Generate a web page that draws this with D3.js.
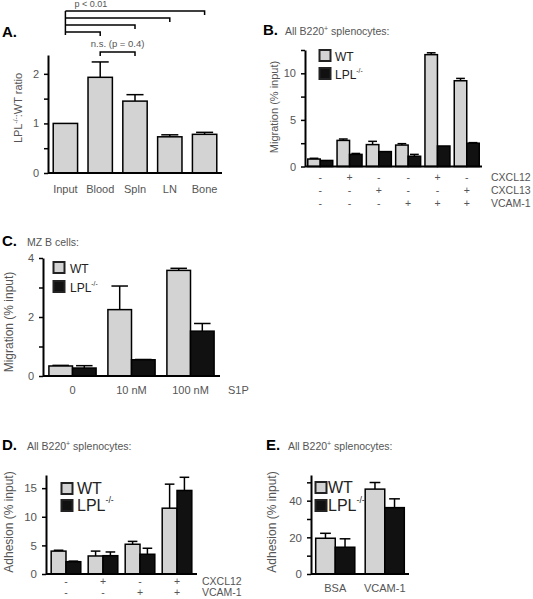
<!DOCTYPE html>
<html><head><meta charset="utf-8">
<script src="https://cdn.jsdelivr.net/npm/d3@7/dist/d3.min.js"></script>
<style>
body{margin:0;background:#fff}
text{font-family:"Liberation Sans",Arial,Helvetica,sans-serif}
</style>
</head><body>
<svg id="chart" width="533" height="599"></svg>
<script>
// ---------------- DATA ----------------
// Panel A
const tissues = ["Input", "Blood", "Spln", "LN", "Bone"];
const ratioValues = [1.0, 1.93, 1.45, 0.73, 0.78];
const ratioErrors = [0, 0.31, 0.13, 0.04, 0.04];
const ratioTicks = [0, 0.5, 1, 1.5, 2];
const ratioTickLabels = ["0", "", "1", "", "2"];
const sigPairs = [["Input", "Bone"], ["Input", "LN"], ["Input", "Spln"], ["Input", "Blood"]];
const sigLabel = "p < 0.01";
const nsPair = ["Blood", "Spln"];
const nsLabel = "n.s. (p = 0.4)";

// Panel B
const bConditions = ["1", "2", "3", "4", "5", "6"];
const bRowNames = ["CXCL12", "CXCL13", "VCAM-1"];
const bRows = [
  ["-", "+", "-", "-", "+", "-"],
  ["-", "-", "+", "-", "-", "+"],
  ["-", "-", "-", "+", "+", "+"]
];
const bWT = [0.8, 2.8, 2.35, 2.3, 12.0, 9.2];
const bWTErr = [0.08, 0.15, 0.35, 0.15, 0.2, 0.25];
const bLPL = [0.65, 1.3, 1.6, 1.1, 2.2, 2.5];
const bLPLErr = [0, 0.1, 0, 0.2, 0, 0.06];
const bTicks = [0, 2.5, 5, 7.5, 10, 12.5];
const bTickLabels = ["0", "", "5", "", "10", ""];

// Panel C
const cDoses = ["0", "10 nM", "100 nM"];
const cWT = [0.34, 2.25, 3.58];
const cWTErr = [0.02, 0.8, 0.07];
const cLPL = [0.27, 0.55, 1.52];
const cLPLErr = [0.08, 0.01, 0.26];
const cTicks = [0, 1, 2, 3, 4];
const cTickLabels = ["0", "", "2", "", "4"];

// Panel D
const dConditions = ["1", "2", "3", "4"];
const dRowNames = ["CXCL12", "VCAM-1"];
const dRows = [
  ["-", "+", "-", "+"],
  ["-", "-", "+", "+"]
];
const dWT = [4.0, 3.15, 5.2, 11.5];
const dWTErr = [0.15, 0.85, 0.5, 4.2];
const dLPL = [2.15, 3.2, 3.45, 14.6];
const dLPLErr = [0.1, 0.65, 1.05, 2.3];
const dTicks = [0, 5, 10, 15];
const dTickLabels = ["0", "5", "10", "15"];

// Panel E
const eSubstrates = ["BSA", "VCAM-1"];
const eWT = [19.5, 46.3];
const eWTErr = [2.7, 3.6];
const eLPL = [14.6, 36.2];
const eLPLErr = [4.6, 4.8];
const eTicks = [0, 10, 20, 30, 40, 50];
const eTickLabels = ["0", "", "20", "", "40", ""];

const genotypes = ["WT", "LPL"];

// ---------------- DRAWING ----------------
const svg = d3.select("#chart");
svg.append("rect").attr("width", 533).attr("height", 599).attr("fill", "#fff");
const GREY = "#d3d3d3", BLACK = "#111", TXT = "#555";

function yAxis(g, y, x0, ticks, labels, fs) {
  const ax = g.append("g").attr("transform", `translate(${x0},0)`)
    .call(d3.axisLeft(y).tickValues(ticks).tickFormat((d, i) => labels[i])
      .tickSize(4).tickSizeOuter(0).tickPadding(5));
  ax.select(".domain").attr("stroke", "#000").attr("stroke-width", 2);
  ax.selectAll(".tick line").attr("stroke", "#000").attr("stroke-width", 1.5);
  ax.selectAll(".tick text").attr("fill", TXT).style("font-size", fs + "px")
    .style("font-family", '"Liberation Sans",Arial,sans-serif');
  return ax;
}

function xLine(g, x0, x1, yb) {
  g.append("line").attr("x1", x0).attr("x2", x1).attr("y1", yb).attr("y2", yb)
    .attr("stroke", "#000").attr("stroke-width", 2);
}

function yTitle(g, x, y, parts, fs) {
  const t = g.append("text").attr("transform", `translate(${x},${y}) rotate(-90)`)
    .attr("text-anchor", "middle").attr("fill", TXT).style("font-size", fs + "px");
  parts.forEach(p => {
    if (p.sup) t.append("tspan").attr("dy", -fs * 0.4).style("font-size", (fs * 0.6) + "px").text(p.t);
    else if (p.after) t.append("tspan").attr("dy", fs * 0.4).text(p.t);
    else t.append("tspan").text(p.t);
  });
}

function header(letter, lx, ly, title, tx, sup, rest) {
  svg.append("text").attr("x", lx).attr("y", ly).attr("fill", "#000")
    .style("font-size", "15px").style("font-weight", "bold").text(letter);
  if (title) {
    const t = svg.append("text").attr("x", tx).attr("y", ly).attr("fill", TXT).style("font-size", "10.5px");
    t.append("tspan").text(title);
    if (sup) {
      t.append("tspan").attr("dy", -4).style("font-size", "7px").text(sup);
      t.append("tspan").attr("dy", 4).text(rest);
    }
  }
}

function errBar(g, cx, yTopV, yErrV, cw) {
  g.append("line").attr("x1", cx).attr("x2", cx).attr("y1", yTopV).attr("y2", yErrV)
    .attr("stroke", "#000").attr("stroke-width", 1.5);
  g.append("line").attr("x1", cx - cw / 2).attr("x2", cx + cw / 2).attr("y1", yErrV).attr("y2", yErrV)
    .attr("stroke", "#000").attr("stroke-width", 1.5);
}

function groupedBars(g, x, y, wt, wtErr, lpl, lplErr, capFrac) {
  const xs = d3.scaleBand().domain(genotypes).range([0, x.bandwidth()]);
  const cats = x.domain();
  const series = [
    { key: "WT", vals: wt, errs: wtErr, fill: GREY },
    { key: "LPL", vals: lpl, errs: lplErr, fill: BLACK }
  ];
  series.forEach(s => {
    cats.forEach((c, i) => {
      const bx = x(c) + xs(s.key);
      const bw = xs.bandwidth();
      if (s.errs[i] > 0) errBar(g, bx + bw / 2, y(s.vals[i]), y(s.vals[i] + s.errs[i]), bw * capFrac);
    });
    g.selectAll(null).data(cats).enter().append("rect")
      .attr("x", (c) => x(c) + xs(s.key))
      .attr("width", xs.bandwidth())
      .attr("y", (c, i) => y(s.vals[i]))
      .attr("height", (c, i) => y(0) - y(s.vals[i]))
      .attr("fill", s.fill).attr("stroke", "#000").attr("stroke-width", 1.5);
  });
}

function legend(g, bx, by, size, gap, tx, fs) {
  const items = [{ t: "WT", fill: GREY }, { t: "LPL", fill: BLACK, sup: "-/-" }];
  items.forEach((it, i) => {
    const yy = by + i * gap;
    g.append("rect").attr("x", bx).attr("y", yy).attr("width", size).attr("height", size)
      .attr("fill", it.fill).attr("stroke", "#222").attr("stroke-width", 2);
    const t = g.append("text").attr("x", tx).attr("y", yy + size - 0.5).attr("fill", "#222")
      .style("font-size", fs + "px");
    t.append("tspan").text(it.t);
    if (it.sup) t.append("tspan").attr("dy", -fs * 0.45).style("font-size", (fs * 0.55) + "px").text(it.sup);
  });
}

function rowLabels(g, x, rows, names, baseY, step, labelX, fs) {
  rows.forEach((row, r) => {
    const yy = baseY + r * step;
    x.domain().forEach((c, i) => {
      g.append("text").attr("x", x(c) + x.bandwidth() / 2).attr("y", yy)
        .attr("text-anchor", "middle").attr("fill", TXT).style("font-size", fs + "px").text(row[i]);
    });
    g.append("text").attr("x", labelX).attr("y", yy).attr("fill", TXT).style("font-size", fs + "px").text(names[r]);
  });
}

// ===== Panel A =====
(function () {
  const g = svg.append("g");
  const x0 = 48, x1 = 222, yb = 173;
  const y = d3.scaleLinear().domain([0, 2.38]).range([yb, 55]);
  const x = d3.scaleBand().domain(tissues).range([x0, x1]).paddingInner(0.3).paddingOuter(0.15);
  tissues.forEach((c, i) => {
    if (ratioErrors[i] > 0) errBar(g, x(c) + x.bandwidth() / 2, y(ratioValues[i]), y(ratioValues[i] + ratioErrors[i]), x.bandwidth() * 0.7);
  });
  g.selectAll(null).data(tissues).enter().append("rect")
    .attr("x", d => x(d)).attr("width", x.bandwidth())
    .attr("y", (d, i) => y(ratioValues[i])).attr("height", (d, i) => yb - y(ratioValues[i]))
    .attr("fill", GREY).attr("stroke", "#000").attr("stroke-width", 1.5);
  yAxis(g, y, x0, ratioTicks, ratioTickLabels, 11);
  xLine(g, x0, x1, yb);
  tissues.forEach(c => {
    g.append("text").attr("x", x(c) + x.bandwidth() / 2).attr("y", yb + 20).attr("text-anchor", "middle")
      .attr("fill", TXT).style("font-size", "11px").text(c);
  });
  yTitle(g, 22, 108, [{ t: "LPL" }, { t: "-/-", sup: true }, { t: ":WT ratio", after: true }], 11);
  // significance brackets
  const cx = c => x(c) + x.bandwidth() / 2;
  const levels = [11, 18, 25, 32];
  g.append("line").attr("x1", cx("Input")).attr("x2", cx("Input")).attr("y1", levels[0]).attr("y2", levels[3] + 3)
    .attr("stroke", "#000").attr("stroke-width", 1.5);
  sigPairs.forEach((p, i) => {
    g.append("path").attr("d", `M${cx(p[0])},${levels[i]}H${cx(p[1])}V${levels[i] + 4}`)
      .attr("fill", "none").attr("stroke", "#000").attr("stroke-width", 1.5);
  });
  g.append("text").attr("x", cx("Input") + 9).attr("y", 7).attr("fill", TXT).style("font-size", "9px").text(sigLabel);
  const nsY = 52;
  g.append("path").attr("d", `M${cx(nsPair[0])},${nsY + 4}V${nsY}H${cx(nsPair[1])}V${nsY + 4}`)
    .attr("fill", "none").attr("stroke", "#000").attr("stroke-width", 1.5);
  g.append("text").attr("x", (cx(nsPair[0]) + cx(nsPair[1])) / 2).attr("y", 47).attr("text-anchor", "middle")
    .attr("fill", TXT).style("font-size", "9.5px").text(nsLabel);
  header("A.", 2, 37);
})();

// ===== Panel B =====
(function () {
  const g = svg.append("g");
  const x0 = 305, x1 = 482, yb = 166.5;
  const y = d3.scaleLinear().domain([0, 12.5]).range([yb, 50]);
  const x = d3.scaleBand().domain(bConditions).range([x0, x1]).paddingInner(0.147).paddingOuter(0.094);
  groupedBars(g, x, y, bWT, bWTErr, bLPL, bLPLErr, 0.7);
  yAxis(g, y, x0, bTicks, bTickLabels, 11);
  xLine(g, x0, x1, yb);
  yTitle(g, 278, 107, [{ t: "Migration (% input)" }], 11);
  legend(g, 319.5, 50, 11, 18, 335, 12);
  rowLabels(g, x, bRows, bRowNames, 181, 13, 491, 10.5);
  header("B.", 263, 35, "All B220", 285, "+", " splenocytes:");
})();

// ===== Panel C =====
(function () {
  const g = svg.append("g");
  const x0 = 43, x1 = 220, yb = 376;
  const y = d3.scaleLinear().domain([0, 4]).range([yb, 258]);
  const x = d3.scaleBand().domain(cDoses).range([x0, x1]).paddingInner(0.2).paddingOuter(0.1);
  groupedBars(g, x, y, cWT, cWTErr, cLPL, cLPLErr, 0.7);
  yAxis(g, y, x0, cTicks, cTickLabels, 11);
  xLine(g, x0, x1, yb);
  yTitle(g, 13, 322, [{ t: "Migration (% input)" }], 12);
  legend(g, 53.5, 262, 11, 19, 70, 12);
  cDoses.forEach(c => {
    g.append("text").attr("x", x(c) + x.bandwidth() / 2).attr("y", yb + 18).attr("text-anchor", "middle")
      .attr("fill", TXT).style("font-size", "11px").text(c);
  });
  g.append("text").attr("x", 228).attr("y", yb + 18).attr("fill", TXT).style("font-size", "11px").text("S1P");
  header("C.", 2, 246, "MZ B cells:", 27);
})();

// ===== Panel D =====
(function () {
  const g = svg.append("g");
  const x0 = 46, x1 = 197, yb = 574;
  const y = d3.scaleLinear().domain([0, 17.3]).range([yb, 475]);
  const x = d3.scaleBand().domain(dConditions).range([x0, x1]).paddingInner(0.2).paddingOuter(0.14);
  groupedBars(g, x, y, dWT, dWTErr, dLPL, dLPLErr, 0.65);
  yAxis(g, y, x0, dTicks, dTickLabels, 11.5);
  xLine(g, x0, x1, yb);
  yTitle(g, 13, 522, [{ t: "Adhesion (% input)" }], 12);
  legend(g, 61.5, 483, 11, 17, 77, 16);
  rowLabels(g, x, dRows, dRowNames, 584.5, 11.5, 202, 10.5);
  header("D.", 2, 450, "All B220", 27, "+", " splenocytes:");
})();

// ===== Panel E =====
(function () {
  const g = svg.append("g");
  const x0 = 311, x1 = 409, yb = 574;
  const y = d3.scaleLinear().domain([0, 54]).range([yb, 475]);
  const x = d3.scaleBand().domain(eSubstrates).range([x0, x1]).paddingInner(0.21).paddingOuter(0.095);
  groupedBars(g, x, y, eWT, eWTErr, eLPL, eLPLErr, 0.55);
  yAxis(g, y, x0, eTicks, eTickLabels, 11.5);
  xLine(g, x0, x1, yb);
  yTitle(g, 276, 522, [{ t: "Adhesion (% input)" }], 12);
  legend(g, 315.5, 482, 11, 18, 328, 16);
  eSubstrates.forEach(c => {
    g.append("text").attr("x", x(c) + x.bandwidth() / 2).attr("y", yb + 18).attr("text-anchor", "middle")
      .attr("fill", TXT).style("font-size", "11px").text(c);
  });
  header("E.", 266, 450, "All B220", 288, "+", " splenocytes:");
})();
</script>
</body></html>
